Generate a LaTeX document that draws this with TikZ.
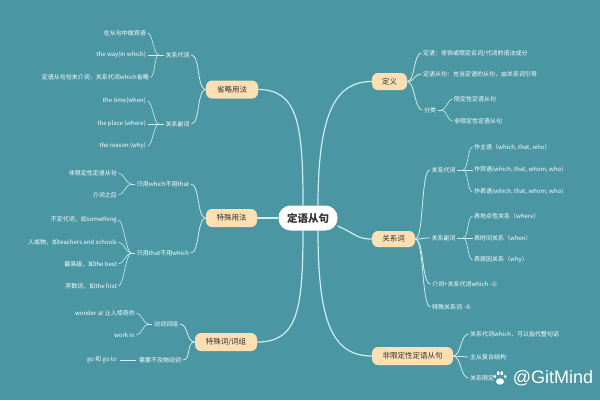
\documentclass[tikz,border=0pt]{standalone}
\usepackage{fontspec}
\setmainfont{Noto Sans CJK SC}
\newfontfamily\symfont{DejaVu Sans}
\newfontfamily\wmfont{Liberation Sans}
\usetikzlibrary{backgrounds}
\definecolor{bg}{RGB}{74,150,163}
\definecolor{peach}{RGB}{252,223,178}
\definecolor{linec}{RGB}{206,238,241}
\definecolor{ink}{RGB}{50,50,50}
\begin{document}
\begin{tikzpicture}[x=1pt,y=-1pt,
  mainbox/.style={fill=peach, rounded corners=6pt, text=ink, font=\fontsize{7.5}{9}\selectfont, minimum height=18pt, inner xsep=2pt, inner ysep=0pt},
  leaf/.style={text=white, font=\fontsize{6}{7}\selectfont, inner sep=1.5pt},
  conn/.style={draw=linec, line width=1.2pt},
  subconn/.style={draw=linec, line width=0.8pt},
  thin/.style={draw=linec, line width=0.6pt},
]
\useasboundingbox (0,0) rectangle (600,400);
% root
\node[fill=white, rounded corners=12pt, minimum width=59pt, minimum height=25pt, inner sep=0pt, text=ink, font=\bfseries\fontsize{10.5}{12}\selectfont] (root) at (308,218) {定语从句};
% main branches
\node[mainbox, minimum width=52pt] (s1) at (232,89.5) {省略用法};
\node[mainbox, minimum width=51pt] (s2) at (231.5,218) {特殊用法};
\node[mainbox, minimum width=62pt] (s3) at (226,342) {特殊词/词组};
\node[mainbox, minimum width=35pt, minimum height=17pt] (d1) at (389.5,81.5) {定义};
\node[mainbox, minimum width=43pt, minimum height=16pt] (d2) at (393.5,239) {关系词};
\node[mainbox, minimum width=81pt] (d3) at (412.5,356) {非限定性定语从句};
% left level 2
\node[leaf] (a1) at (177.5,55) {关系代词};
\node[leaf] (a2) at (177.5,124) {关系副词};
\node[leaf] (b1) at (163,184) {只用which不用that};
\node[leaf] (b2) at (163,253) {只用that不用which};
\node[leaf] (c1) at (166,324) {动词词组};
\node[leaf] (c2) at (160,360) {需要不及物动词};
% left leaves
\node[leaf, anchor=east] (a11) at (147.5,33) {在从句中做宾语};
\node[leaf, anchor=east] (a12) at (147.5,55) {the way(in which)};
\node[leaf, anchor=east] (a13) at (150.5,77) {定语从句句末介词，关系代词which省略};
\node[leaf, anchor=east] (a21) at (147.5,101) {the time(when)};
\node[leaf, anchor=east] (a22) at (147.5,124) {the place (where)};
\node[leaf, anchor=east] (a23) at (147.5,146) {the reason (why)};
\node[leaf, anchor=east] (b11) at (118.5,173) {非限定性定语从句};
\node[leaf, anchor=east] (b12) at (118.5,195) {介词之后};
\node[leaf, anchor=east] (b21) at (118.5,220) {不定代词，如something};
\node[leaf, anchor=east] (b22) at (118.5,242) {人或物，如teachers and schools};
\node[leaf, anchor=east] (b23) at (118.5,264) {最高级，如the best};
\node[leaf, anchor=east] (b24) at (118.5,286) {序数词，如the first};
\node[leaf, anchor=east] (c11) at (136.5,313) {wonder at 让人惊奇的};
\node[leaf, anchor=east] (c12) at (136.5,335) {work in};
\node[leaf, anchor=east] (c21) at (118.5,360) {go 和 go to};
% right side
\node[leaf, anchor=west] (e1) at (421.5,53) {定语：修饰或限定名词/代词的语法成分};
\node[leaf, anchor=west] (e2) at (421.5,74) {定语从句：充当定语的从句，由关系词引导};
\node[leaf] (e3) at (430,110) {分类};
\node[leaf, anchor=west] (e31) at (452.5,99) {限定性定语从句};
\node[leaf, anchor=west] (e32) at (452.5,121) {非限定性定语从句};
\node[leaf] (f1) at (443.5,170) {关系代词};
\node[leaf] (f2) at (443.5,238) {关系副词};
\node[leaf, anchor=west] (f3) at (430.5,284) {介词+关系代词which -{\symfont ①}};
\node[leaf, anchor=west] (f4) at (430.5,307) {特殊关系词 -{\symfont ⑤}};
\node[leaf, anchor=west] (f11) at (472.5,147) {作主语（which, that, who）};
\node[leaf, anchor=west] (f12) at (472.5,170) {作宾语(which, that, whom, who)};
\node[leaf, anchor=west] (f13) at (472.5,192) {作表语(which, that, whom, who)};
\node[leaf, anchor=west] (f21) at (472.5,216) {表地点性关系（where）};
\node[leaf, anchor=west] (f22) at (472.5,238) {表时间关系（when）};
\node[leaf, anchor=west] (f23) at (472.5,260) {表原因关系（why）};
\node[leaf, anchor=west] (g1) at (468.5,334) {关系代词which，可以指代整句话};
\node[leaf, anchor=west] (g2) at (468.5,357) {主从复合结构};
\node[leaf, anchor=west] (g3) at (468.5,378) {关系限定};
% watermark
\node[text=white, font=\wmfont\fontsize{18}{20}\selectfont, inner sep=0pt] (wm) at (553,378) {@GitMind};
\fill[white] (500,381.5) ellipse [x radius=4, y radius=3.2];
\fill[white] (494.8,376.5) ellipse [x radius=1.4, y radius=1.9];
\fill[white] (498.2,373.2) ellipse [x radius=1.4, y radius=2];
\fill[white] (501.8,373.2) ellipse [x radius=1.4, y radius=2];
\fill[white] (505.2,376.5) ellipse [x radius=1.4, y radius=1.9];
\begin{scope}[on background layer]
  \fill[bg] (0,0) rectangle (600,400);
  % root connectors
  \draw[conn] ([xshift=-5pt]root.north) .. controls +(0,-80) and +(40,0) .. (s1.east);
  \draw[conn] ([xshift=10pt]root.north) .. controls +(0,-95) and +(-35,0) .. (d1.west);
  \draw[conn] ([xshift=-5pt]root.south) .. controls +(0,80) and +(40,0) .. (s3.east);
  \draw[conn] ([xshift=10pt]root.south) .. controls +(0,90) and +(-40,0) .. (d3.west);
  \draw[conn] (root.-15) .. controls +(18,8) and +(-15,0) .. (d2.west);
  \draw[conn] (s2.east) -- (root.west);
  % main to level 2
  \foreach \c in {a1,a2} \draw[subconn] (s1.west) .. controls +(-9,0) and +(9,0) .. (\c.east);
  \foreach \c in {b1,b2} \draw[subconn] (s2.west) .. controls +(-9,0) and +(9,0) .. (\c.east);
  \foreach \c in {c1,c2} \draw[subconn] (s3.west) .. controls +(-9,0) and +(9,0) .. (\c.east);
  \foreach \c in {e1,e2,e3} \draw[subconn] (d1.east) .. controls +(8,0) and +(-8,0) .. (\c.west);
  \foreach \c in {f1,f2,f3,f4} \draw[subconn] (d2.east) .. controls +(9,0) and +(-9,0) .. (\c.west);
  \foreach \c in {g1,g2,g3} \draw[subconn] (d3.east) .. controls +(8,0) and +(-8,0) .. (\c.west);
  % brackets
  \draw[thin] (a1.west) -- ++(-5,0) coordinate (ja);
  \foreach \c in {a11,a12,a13} \draw[thin] (ja) .. controls +(-5,0) and +(5,0) .. (\c.east);
  \draw[thin] (a2.west) -- ++(-5,0) coordinate (jb);
  \foreach \c in {a21,a22,a23} \draw[thin] (jb) .. controls +(-5,0) and +(5,0) .. (\c.east);
  \draw[thin] (b1.west) -- ++(-4,0) coordinate (jc);
  \foreach \c in {b11,b12} \draw[thin] (jc) .. controls +(-5,0) and +(5,0) .. (\c.east);
  \draw[thin] (b2.west) -- ++(-4,0) coordinate (jd);
  \foreach \c in {b21,b22,b23,b24} \draw[thin] (jd) .. controls +(-5,0) and +(5,0) .. (\c.east);
  \draw[thin] (c1.west) -- ++(-4,0) coordinate (je);
  \foreach \c in {c11,c12} \draw[thin] (je) .. controls +(-5,0) and +(5,0) .. (\c.east);
  \draw[thin, shorten <=1.5pt, shorten >=1.5pt] (c2.west) -- (c21.east);
  \draw[thin] (e3.east) -- ++(4,0) coordinate (jf);
  \foreach \c in {e31,e32} \draw[thin] (jf) .. controls +(5,0) and +(-5,0) .. (\c.west);
  \draw[thin] (f1.east) -- ++(6,0) coordinate (jg);
  \foreach \c in {f11,f12,f13} \draw[thin] (jg) .. controls +(5,0) and +(-5,0) .. (\c.west);
  \draw[thin] (f2.east) -- ++(6,0) coordinate (jh);
  \foreach \c in {f21,f22,f23} \draw[thin] (jh) .. controls +(5,0) and +(-5,0) .. (\c.west);
\end{scope}
\end{tikzpicture}
\end{document}
